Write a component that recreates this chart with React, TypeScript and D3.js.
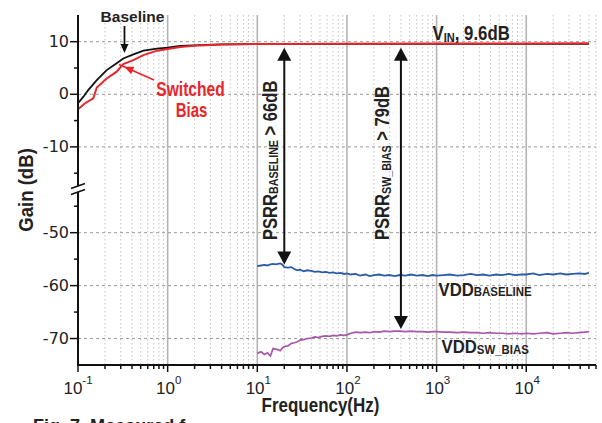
import React from "react";
import * as d3 from "d3";

// gain curves (Vin -> Vout)
const baseFreq = [0.1, 0.115, 0.13, 0.162, 0.209, 0.27, 0.32, 0.415, 0.537, 0.76, 1, 1.38, 2.3, 4, 10, 100, 1000, 10000, 50000];
const baseGain = [-1.7, -0.45, 0.8, 2.7, 4.6, 5.9, 6.8, 7.6, 8.3, 8.7, 8.85, 9.2, 9.35, 9.5, 9.55, 9.6, 9.6, 9.6, 9.6];

const swFreq = [0.1, 0.12, 0.148, 0.162, 0.209, 0.27, 0.32, 0.415, 0.537, 0.76, 1, 1.38, 2.3, 4, 10, 100, 1000, 10000, 50000];
const swGain = [-2.85, -1.7, -0.76, 1.3, 3.0, 4.3, 5.75, 6.5, 7.45, 8.3, 8.6, 9.0, 9.3, 9.45, 9.55, 9.6, 9.65, 9.65, 9.7];

// supply (VDD -> Vout) curves
const vddFreq = [10, 11, 12, 13, 14, 15, 16, 17, 18, 19, 20, 22, 24, 26, 28, 30, 33, 36, 40, 44, 48, 53, 58, 64, 70, 77, 85, 93, 100, 110, 125, 140, 160, 180, 200, 230, 260, 300, 340, 390, 450, 520, 600, 700, 800, 900, 1000, 1200, 1400, 1700, 2000, 2400, 2800, 3300, 3900, 4600, 5400, 6400, 7500, 8800, 10000, 12000, 14000, 17000, 20000, 24000, 28000, 33000, 39000, 45000, 50000];
const vddBase = [-56.3, -56.2, -56.1, -56.2, -56.0, -55.9, -56.0, -55.9, -55.8, -56.0, -56.5, -56.6, -56.5, -56.9, -57.1, -57.0, -57.3, -57.1, -57.2, -57.4, -57.3, -57.5, -57.4, -57.6, -57.5, -57.7, -57.6, -57.8, -57.7, -57.9, -57.8, -58.1, -57.9, -58.2, -58.0, -57.9, -58.1, -58.0, -58.2, -58.0, -58.1, -57.9, -58.1, -58.0, -58.2, -58.0, -58.1, -58.0, -57.9, -58.1, -58.0, -57.8, -58.0, -57.9, -58.1, -57.9, -58.0, -57.8, -58.0, -57.9, -57.9, -57.7, -58.0, -57.8, -57.9, -57.7, -57.9, -57.8, -57.7, -57.8, -57.6];
const vddSw = [-72.8, -72.5, -73.0, -72.7, -73.3, -71.9, -72.0, -72.1, -72.3, -71.8, -71.5, -71.4, -70.9, -70.8, -70.6, -70.3, -70.2, -70.0, -69.9, -69.7, -69.8, -69.6, -69.5, -69.6, -69.4, -69.5, -69.3, -69.4, -69.3, -69.0, -68.8, -68.9, -68.8, -68.9, -68.7, -68.8, -68.6, -68.7, -68.6, -68.6, -68.7, -68.6, -68.7, -68.7, -68.8, -68.7, -68.7, -68.8, -68.8, -68.9, -68.8, -68.9, -68.9, -69.0, -68.9, -69.0, -69.0, -69.1, -69.0, -69.1, -69.0, -69.1, -69.0, -68.9, -69.1, -69.0, -68.9, -69.0, -68.9, -68.8, -68.7];

const xDecades = [-1, 0, 1, 2, 3, 4];
const yTopTicks = [10, 0, -10];
const yTopMinor = [5, -5, -15];
const yBotTicks = [-50, -60, -70];
const yBotMinor = [-45, -55, -65];

const W = 602;
const H = 423;
const left = 78;
const right = 596;
const top = 15;
const bottom = 365;
const breakTop = 186;
const breakBot = 192;

const FONT = "'Liberation Sans', Arial, Helvetica, sans-serif";

export default function App() {
  const x = d3.scaleLog().domain([0.1, 6e4]).range([left, right]);
  const yTop = d3.scaleLinear().domain([-17, 15]).range([183.7, 15.4]);
  const yBot = d3.scaleLinear().domain([-75, -42.5]).range([365, 193]);

  const lineTop = d3
    .line<[number, number]>()
    .x((d) => x(d[0]))
    .y((d) => yTop(d[1]));
  const lineBot = d3
    .line<[number, number]>()
    .x((d) => x(d[0]))
    .y((d) => yBot(d[1]));

  const zip = (a: number[], b: number[]) => a.map((v, i) => [v, b[i]] as [number, number]);

  // minor ticks 2..9 per decade, within domain
  const minors: number[] = [];
  xDecades.forEach((d) => {
    for (let m = 2; m <= 9; m++) {
      const v = m * Math.pow(10, d);
      if (v <= 6e4 + 1) minors.push(v);
    }
  });

  const arrowHead = (tx: number, ty: number, dir: "up" | "down", w: number, l: number) => {
    const s = dir === "up" ? 1 : -1;
    return `M${tx},${ty} L${tx - w / 2},${ty + s * l} L${tx + w / 2},${ty + s * l} Z`;
  };

  const psrr1x = x(20);
  const psrr2x = x(400);
  const arrowTop = yTop(9.6) + 4;
  const psrr1Bot = yBot(-56.0);
  const psrr2Bot = yBot(-68.2);

  // red annotation arrow
  const rx1 = 154, ry1 = 80, rx2 = x(0.33), ry2 = yTop(5.6) + 2;
  const ang = Math.atan2(ry2 - ry1, rx2 - rx1);
  const ah = 9, aw = 4;
  const redHead = `M${rx2},${ry2} L${rx2 - ah * Math.cos(ang) + aw * Math.sin(ang)},${ry2 - ah * Math.sin(ang) - aw * Math.cos(ang)} L${rx2 - ah * Math.cos(ang) - aw * Math.sin(ang)},${ry2 - ah * Math.sin(ang) + aw * Math.cos(ang)} Z`;

  const baseArrowX = x(0.33);

  return (
    <svg
      width={W}
      height={H}
      viewBox={`0 0 ${W} ${H}`}
      style={{ position: "absolute", left: 0, top: 0, background: "#fff" }}
      fontFamily={FONT}
    >
      {/* vertical grid */}
      <g>
        {minors.map((v) => (
          <line key={"m" + v} x1={x(v)} x2={x(v)} y1={top} y2={bottom} stroke="#c4c4c4" strokeWidth={1} strokeDasharray="1.5,2.5" />
        ))}
        {xDecades.slice(1).map((d) => (
          <line key={"M" + d} x1={x(Math.pow(10, d))} x2={x(Math.pow(10, d))} y1={top} y2={bottom} stroke="#b4b4b4" strokeWidth={1.6} />
        ))}
      </g>
      {/* horizontal grid */}
      <g stroke="#9a9a9a" strokeWidth={1} strokeDasharray="3,3">
        {yTopTicks.map((t) => (
          <line key={"ht" + t} x1={left} x2={right} y1={yTop(t)} y2={yTop(t)} />
        ))}
        {yBotTicks.map((t) => (
          <line key={"hb" + t} x1={left} x2={right} y1={yBot(t)} y2={yBot(t)} />
        ))}
      </g>

      {/* data */}
      <path d={lineBot(zip(vddFreq, vddBase)) || ""} fill="none" stroke="#2b5ca8" strokeWidth={1.8} />
      <path d={lineBot(zip(vddFreq, vddSw)) || ""} fill="none" stroke="#a957a8" strokeWidth={1.7} />
      <path d={lineTop(zip(baseFreq, baseGain)) || ""} fill="none" stroke="#111" strokeWidth={1.8} />
      <path d={lineTop(zip(swFreq, swGain)) || ""} fill="none" stroke="#e8262b" strokeWidth={2} />

      {/* axes */}
      <g stroke="#111" strokeWidth={2}>
        <line x1={left} x2={left} y1={top} y2={breakTop} />
        <line x1={left} x2={left} y1={breakBot} y2={bottom + 1} />
        <line x1={left - 1} x2={right} y1={bottom} y2={bottom} />
        <line x1={left - 7} x2={left + 7} y1={breakTop + 2.5} y2={breakTop - 2.5} strokeWidth={1.5} />
        <line x1={left - 7} x2={left + 7} y1={breakBot + 2.5} y2={breakBot - 2.5} strokeWidth={1.5} />
        {yTopTicks.map((t) => (
          <line key={"yt" + t} x1={left - 8} x2={left} y1={yTop(t)} y2={yTop(t)} strokeWidth={1.5} />
        ))}
        {yBotTicks.map((t) => (
          <line key={"yb" + t} x1={left - 8} x2={left} y1={yBot(t)} y2={yBot(t)} strokeWidth={1.5} />
        ))}
        {yTopMinor.map((t) => (
          <line key={"ytm" + t} x1={left - 4} x2={left} y1={yTop(t)} y2={yTop(t)} strokeWidth={1.5} />
        ))}
        {yBotMinor.map((t) => (
          <line key={"ybm" + t} x1={left - 4} x2={left} y1={yBot(t)} y2={yBot(t)} strokeWidth={1.5} />
        ))}
        {xDecades.map((d) => (
          <line key={"xt" + d} x1={x(Math.pow(10, d))} x2={x(Math.pow(10, d))} y1={bottom} y2={bottom + 7} strokeWidth={1.5} />
        ))}
        {minors.map((v) => (
          <line key={"xm" + v} x1={x(v)} x2={x(v)} y1={bottom} y2={bottom + 4} strokeWidth={1.5} />
        ))}
      </g>

      {/* y tick labels */}
      <g fontFamily="'DejaVu Sans', sans-serif" fontSize={16} fill="#222" textAnchor="end">
        {yTopTicks.map((t) => (
          <text key={"lt" + t} x={69} y={yTop(t) + 5}>{t}</text>
        ))}
        {yBotTicks.map((t) => (
          <text key={"lb" + t} x={69} y={yBot(t) + 5}>{t}</text>
        ))}
      </g>
      {/* x tick labels */}
      <g fontSize={17} fill="#222" textAnchor="middle">
        {xDecades.map((d) => (
          <text key={"lx" + d} x={x(Math.pow(10, d)) + (d < 0 ? 0 : 1)} y={394}>
            10<tspan dy={-10} fontSize={11.5}>{d}</tspan>
          </text>
        ))}
      </g>

      {/* axis titles */}
      <text transform="translate(33,190) rotate(-90) scale(0.93,1)" textAnchor="middle" fontSize={20} fontWeight="bold" fill="#222">
        Gain (dB)
      </text>
      <text transform="translate(320.5,412) scale(0.87,1)" textAnchor="middle" fontSize={19.5} fontWeight="bold" fill="#222">
        Frequency(Hz)
      </text>
      <text transform="translate(33,432) scale(0.95,1)" fontSize={19} fontWeight="bold" fill="#222">
        Fig. 7. Measured f
      </text>

      {/* Baseline annotation */}
      <text x={132.5} y={22} textAnchor="middle" fontSize={15.5} fontWeight="bold" fill="#222">Baseline</text>
      <line x1={baseArrowX} x2={baseArrowX} y1={26} y2={45} stroke="#111" strokeWidth={1.8} />
      <path d={arrowHead(baseArrowX, 53, "down", 8, 9)} fill="#111" />

      {/* Switched bias annotation */}
      <g fill="#e8262b" fontSize={20} fontWeight="bold" textAnchor="middle">
        <text transform="translate(190.5,96) scale(0.78,1)">Switched</text>
        <text transform="translate(191.5,117) scale(0.75,1)">Bias</text>
      </g>
      <line x1={rx1} y1={ry1} x2={rx2 + 6 * Math.cos(ang)} y2={ry2 + 6 * Math.sin(ang)} stroke="#e8262b" strokeWidth={1.6} />
      <path d={redHead} fill="#e8262b" />

      {/* Vin label */}
      <text transform="translate(432.5,40) scale(0.82,1)" fontSize={20.5} fontWeight="bold" fill="#222">
        V<tspan fontSize={13.5} dy={1.5}>IN</tspan>
        <tspan dy={-1.5}>, 9.6dB</tspan>
      </text>

      {/* PSRR arrows */}
      <g stroke="#111" strokeWidth={2}>
        <line x1={psrr1x} x2={psrr1x} y1={arrowTop + 10} y2={psrr1Bot - 10} />
        <line x1={psrr2x} x2={psrr2x} y1={arrowTop + 10} y2={psrr2Bot - 10} />
      </g>
      <g fill="#111">
        <path d={arrowHead(psrr1x, arrowTop, "up", 14, 13)} />
        <path d={arrowHead(psrr1x, psrr1Bot, "down", 14, 13)} />
        <path d={arrowHead(psrr2x, arrowTop, "up", 14, 13)} />
        <path d={arrowHead(psrr2x, psrr2Bot, "down", 14, 13)} />
      </g>
      <g fontSize={21} fontWeight="bold" fill="#222">
        <text transform="translate(276.5,240) rotate(-90) scale(0.79,1)">
          PSRR<tspan fontSize={13.5} dy={1.5}>BASELINE</tspan>
          <tspan dy={-1.5}> &gt; 66dB</tspan>
        </text>
        <text transform="translate(389,240) rotate(-90) scale(0.79,1)">
          PSRR<tspan fontSize={13.5} dy={1.5}>SW_BIAS</tspan>
          <tspan dy={-1.5}> &gt; 79dB</tspan>
        </text>
      </g>

      {/* VDD labels */}
      <g fontSize={19} fontWeight="bold" fill="#222">
        <text transform="translate(438.5,295.5) scale(0.88,1)">
          VDD<tspan fontSize={13} dy={0.8}>BASELINE</tspan>
        </text>
        <text transform="translate(441.5,353) scale(0.88,1)">
          VDD<tspan fontSize={13} dy={0.8}>SW_BIAS</tspan>
        </text>
      </g>
    </svg>
  );
}
